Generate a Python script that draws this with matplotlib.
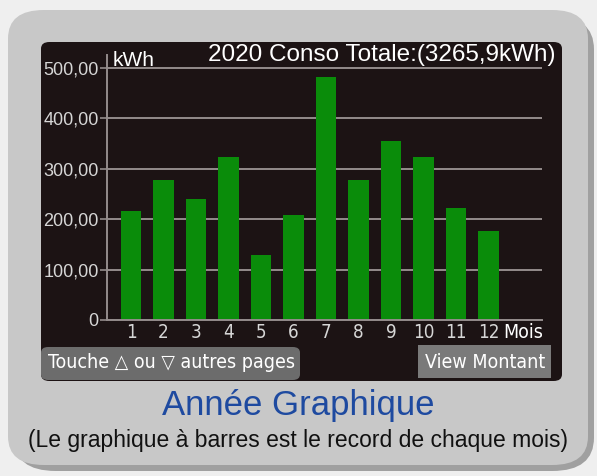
import matplotlib.pyplot as plt
from matplotlib.patches import FancyBboxPatch, Rectangle

# data
mois = list(range(1, 13))
conso = [217, 278, 241, 324, 130, 208, 483, 278, 356, 323, 223, 176]
yticks = [0, 100, 200, 300, 400, 500]
ylabels = ['0', '100,00', '200,00', '300,00', '400,00', '500,00']

W, H = 597, 476

def fx(x):
	return x / W

def fy(y):
	# pixel from top -> figure fraction
	return 1 - y / H

narrow = ['DejaVu Sans']
sans = ['Liberation Sans', 'DejaVu Sans']

fig = plt.figure(figsize=(W / 100, H / 100), dpi=100)
fig.patch.set_facecolor('#efefef')

# grey panel with shadow
fig.patches.append(FancyBboxPatch((fx(14), fy(471)), fx(580), fy(16) - fy(471),
	boxstyle='round,pad=0,rounding_size=0.07', transform=fig.transFigure,
	facecolor='#a0a0a0', edgecolor='none', zorder=0))
fig.patches.append(FancyBboxPatch((fx(8), fy(465)), fx(580), fy(10) - fy(465),
	boxstyle='round,pad=0,rounding_size=0.06', transform=fig.transFigure,
	facecolor='#c8c8c8', edgecolor='none', zorder=0))
# dark screen
fig.patches.append(FancyBboxPatch((fx(41), fy(381)), fx(521), fy(42) - fy(381),
	boxstyle='round,pad=0,rounding_size=0.014', transform=fig.transFigure,
	facecolor='#1c1314', edgecolor='none', zorder=1))
# buttons
fig.patches.append(FancyBboxPatch((fx(41), fy(380)), fx(259), fy(347) - fy(380),
	boxstyle='round,pad=0,rounding_size=0.012', transform=fig.transFigure,
	facecolor='#6c6c6c', edgecolor='none', zorder=2))
fig.patches.append(Rectangle((fx(418), fy(378)), fx(133), fy(345) - fy(378),
	transform=fig.transFigure, facecolor='#7a7a7a', edgecolor='none', zorder=2))

ax = fig.add_axes([fx(107), fy(320), fx(435), fy(55) - fy(320)])
ax.set_facecolor('none')
ax.set_zorder(3)

ax.bar(mois, conso, width=0.63, color='#0a8c0a', zorder=2)

ax.set_xlim(0.26, 13.65)
ax.set_ylim(0, 526)
ax.set_yticks(yticks)
ax.set_yticklabels(ylabels)
ax.set_xticks(mois)
ax.set_xticklabels([str(m) for m in mois])
ax.yaxis.grid(True, color='#948c8c', linewidth=1.4, zorder=1)
ax.tick_params(axis='y', colors='#948c8c', length=5, width=1.2, labelcolor='#d6d6d6', labelsize=13, pad=1)
ax.tick_params(axis='x', length=0, labelcolor='#d6d6d6', labelsize=13.5, pad=2)
for lab in ax.get_yticklabels():
	lab.set_family(sans)
for lab in ax.get_xticklabels():
	lab.set_family(narrow)
	lab.set_stretch('condensed')
for s in ['top', 'right']:
	ax.spines[s].set_visible(False)
for s in ['left', 'bottom']:
	ax.spines[s].set_color('#948c8c')
	ax.spines[s].set_linewidth(1.4)

fig.text(fx(113), fy(60), 'kWh', color='white', fontsize=15, family=sans, va='center', ha='left', zorder=5)
fig.text(fx(556), fy(55), '2020 Conso Totale:(3265,9kWh)', color='white', fontsize=17.5, family=sans,
	va='center', ha='right', zorder=5)
fig.text(fx(503), fy(333), 'Mois', color='white', fontsize=14, family=narrow, stretch='condensed',
	va='center', ha='left', zorder=5)

fig.text(fx(171), fy(363), 'Touche \u25b3 ou \u25bd autres pages', color='white', fontsize=14, family=narrow,
	stretch='condensed', va='center', ha='center', zorder=5)
fig.text(fx(485), fy(362), 'View Montant', color='white', fontsize=14, family=narrow, stretch='condensed',
	va='center', ha='center', zorder=5)

fig.text(0.5, fy(405), 'Année Graphique', color='#1e4aa0', fontsize=25, family=sans, va='center', ha='center')
fig.text(0.5, fy(440), '(Le graphique à barres est le record de chaque mois)', color='#111111', fontsize=16.5,
	family=sans, va='center', ha='center')

fig.savefig('out.png', dpi=100, facecolor=fig.get_facecolor())
